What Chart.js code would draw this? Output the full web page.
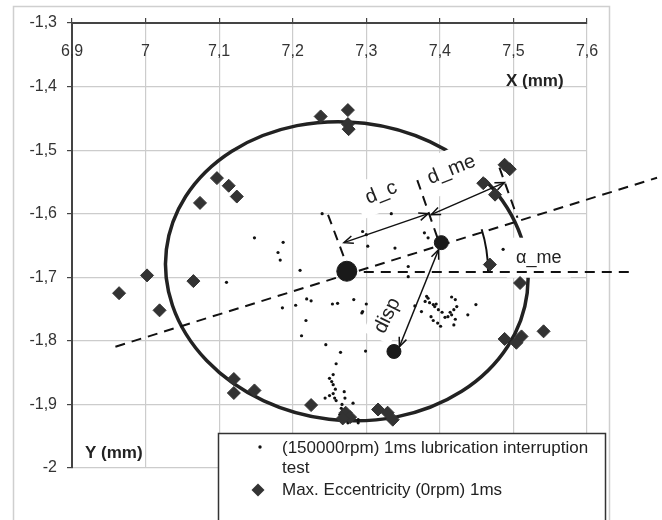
<!DOCTYPE html>
<html>
<head>
<meta charset="utf-8">
<title>Journal centre trajectory</title>
<script src="https://cdn.jsdelivr.net/npm/chart.js@4.4.1/dist/chart.umd.min.js"></script>
<style>
    html, body { margin: 0; padding: 0; background: #fff; }
    #wrap { width: 662px; height: 520px; }
</style>
</head>
<body>
<div id="wrap"><canvas id="eccChart" width="662" height="520"></canvas></div>
<script>
// tick labels (comma decimals, as in the original)
const xTickLabels = ['6,9', '7', '7,1', '7,2', '7,3', '7,4', '7,5', '7,6'];
const yTickLabels = ['-2', '-1,9', '-1,8', '-1,7', '-1,6', '-1,5', '-1,4', '-1,3'];

// (150000rpm) 1ms lubrication interruption test - small dots
const runX = [7.148, 7.187, 7.180, 7.183, 7.210, 7.110, 7.240, 7.334, 7.295, 7.300,
    7.302, 7.339, 7.357, 7.379, 7.384, 7.357, 7.486,
    7.186, 7.204, 7.219, 7.225, 7.254, 7.261, 7.283, 7.300, 7.295, 7.294,
    7.218, 7.212, 7.245, 7.265, 7.299, 7.259,
    7.255, 7.250, 7.253, 7.255, 7.258, 7.270, 7.255, 7.250, 7.244, 7.257,
    7.259, 7.267, 7.271, 7.282, 7.266, 7.268, 7.264, 7.282, 7.289, 7.289, 7.275,
    7.366, 7.375, 7.382, 7.384, 7.380, 7.386, 7.391, 7.393, 7.395, 7.388,
    7.391, 7.397, 7.401, 7.403, 7.407, 7.411, 7.414, 7.416, 7.416, 7.421,
    7.423, 7.419, 7.421, 7.419, 7.438, 7.449, 7.398];
const runY = [-1.638, -1.645, -1.661, -1.673, -1.689, -1.708, -1.600, -1.600, -1.628, -1.633,
    -1.651, -1.654, -1.683, -1.630, -1.638, -1.699, -1.656,
    -1.748, -1.744, -1.734, -1.737, -1.742, -1.741, -1.735, -1.742, -1.754, -1.756,
    -1.768, -1.792, -1.806, -1.818, -1.816, -1.836,
    -1.853, -1.859, -1.864, -1.869, -1.876, -1.880, -1.883, -1.886, -1.890, -1.890,
    -1.894, -1.900, -1.890, -1.898, -1.906, -1.909, -1.916, -1.921, -1.924, -1.929, -1.929,
    -1.745, -1.754, -1.730, -1.733, -1.738, -1.740, -1.743, -1.746, -1.742, -1.762,
    -1.768, -1.772, -1.777, -1.755, -1.763, -1.762, -1.755, -1.759, -1.731, -1.735,
    -1.746, -1.751, -1.766, -1.775, -1.759, -1.743, -1.751];

// Max. Eccentricity (0rpm) 1ms - diamonds
const eccX = [7.238, 7.275, 7.275, 7.276, 7.074, 7.097, 7.113, 7.124, 6.964, 7.002,
    7.019, 7.065, 7.120, 7.120, 7.148, 7.225, 7.272, 7.278, 7.268, 7.316,
    7.329, 7.336, 7.488, 7.504, 7.511, 7.541, 7.509, 7.468, 7.488, 7.495,
    7.459, 7.475];
const eccY = [-1.447, -1.437, -1.459, -1.467, -1.583, -1.544, -1.556, -1.573, -1.725, -1.697,
    -1.752, -1.706, -1.860, -1.882, -1.878, -1.901, -1.913, -1.920, -1.922, -1.908,
    -1.913, -1.924, -1.797, -1.803, -1.793, -1.785, -1.709, -1.680, -1.523, -1.530,
    -1.552, -1.570];

// bearing centre, mean eccentric position, displaced position
const markX = [7.2735, 7.402, 7.3376];
const markY = [-1.6905, -1.6455, -1.8167];

// fitted orbit and construction lines (data units)
const fitCentre = [7.2735, -1.6905];
const fitRadius = [0.247, 0.2345];
const fitTilt = 0.12;
const mainLine = [[6.959, -1.8092], [7.6952, -1.5434]];
const levelLine = [[7.2735, -1.6915], [7.657, -1.6915]];
const crossLines = [
    [[7.248, -1.6018], [7.2735, -1.6802]],
    [[7.3693, -1.5471], [7.3977, -1.6411]],
    [[7.481, -1.5276], [7.5055, -1.6063]]
];
const arrows = [
    [[7.2696, -1.6455], [7.3841, -1.5999]],
    [[7.3882, -1.6015], [7.4877, -1.5511]],
    [[7.3982, -1.6566], [7.3450, -1.8092]]
];
const arcRadius = 0.192;

const FONT = '"Liberation Sans", Arial, sans-serif';

const notes = [
    { text: 'd_c', at: [7.3203, -1.567], angle: -22, size: 20, box: [52, 36] },
    { text: 'd_me', at: [7.4158, -1.5308], angle: -22, size: 20, box: [66, 40] },
    { text: 'disp', at: [7.3285, -1.7604], angle: -64, size: 20, box: [50, 30] },
    { text: 'α_me', at: [7.5345, -1.6692], angle: 0, size: 18, box: [64, 40] }
];

function drawHead(ctx, x1, y1, x2, y2) {
    const a = Math.atan2(y2 - y1, x2 - x1);
    const s = 10;
    ctx.beginPath();
    ctx.moveTo(x2 - s * Math.cos(a - 0.4), y2 - s * Math.sin(a - 0.4));
    ctx.lineTo(x2, y2);
    ctx.lineTo(x2 - s * Math.cos(a + 0.4), y2 - s * Math.sin(a + 0.4));
    ctx.stroke();
}

const sketchPlugin = {
    id: 'sketch',
    beforeDraw(chart) {
        const ctx = chart.ctx;
        ctx.save();
        ctx.fillStyle = '#fff';
        ctx.fillRect(0, 0, chart.width, chart.height);
        ctx.strokeStyle = '#cfcfcf';
        ctx.lineWidth = 1.5;
        ctx.strokeRect(13.5, 6.5, 596, 540);
        ctx.restore();
    },
    beforeDatasetsDraw(chart) {
        const { ctx, scales: { x, y } } = chart;
        const px = v => x.getPixelForValue(v);
        const py = v => y.getPixelForValue(v);
        ctx.save();

        // fitted orbit
        const cx = px(fitCentre[0]), cy = py(fitCentre[1]);
        const rx = px(fitCentre[0] + fitRadius[0]) - cx;
        const ry = py(fitCentre[1] - fitRadius[1]) - cy;
        ctx.beginPath();
        ctx.ellipse(cx, cy, rx, ry, fitTilt, 0, 2 * Math.PI);
        ctx.lineWidth = 3.5;
        ctx.strokeStyle = '#222';
        ctx.stroke();

        // white label backgrounds
        ctx.fillStyle = '#fff';
        notes.forEach(n => {
            ctx.save();
            ctx.translate(px(n.at[0]), py(n.at[1]));
            ctx.rotate(n.angle * Math.PI / 180);
            ctx.fillRect(-n.box[0] / 2, -n.box[1] / 2, n.box[0], n.box[1]);
            ctx.restore();
        });

        // dashed construction lines
        ctx.strokeStyle = '#111';
        ctx.lineWidth = 2;
        ctx.setLineDash([10, 7]);
        [mainLine, levelLine].concat(crossLines).forEach(l => {
            ctx.beginPath();
            ctx.moveTo(px(l[0][0]), py(l[0][1]));
            ctx.lineTo(px(l[1][0]), py(l[1][1]));
            ctx.stroke();
        });
        ctx.setLineDash([]);

        // angle arc
        const bx = px(markX[0]), by = py(markY[0]);
        const a0 = Math.atan2(py(mainLine[1][1]) - py(mainLine[0][1]), px(mainLine[1][0]) - px(mainLine[0][0]));
        const r = px(markX[0] + arcRadius) - bx;
        ctx.beginPath();
        ctx.arc(bx, by, r, a0, 0);
        ctx.lineWidth = 2;
        ctx.stroke();

        // double arrows
        ctx.lineWidth = 1.5;
        arrows.forEach(a => {
            const x1 = px(a[0][0]), y1 = py(a[0][1]);
            const x2 = px(a[1][0]), y2 = py(a[1][1]);
            ctx.beginPath();
            ctx.moveTo(x1, y1);
            ctx.lineTo(x2, y2);
            ctx.stroke();
            drawHead(ctx, x1, y1, x2, y2);
            drawHead(ctx, x2, y2, x1, y1);
        });
        ctx.restore();
    },
    afterDatasetsDraw(chart) {
        const { ctx, scales: { x, y } } = chart;
        const px = v => x.getPixelForValue(v);
        const py = v => y.getPixelForValue(v);
        ctx.save();
        ctx.fillStyle = '#333';
        ctx.textBaseline = 'middle';

        // x tick labels sit inside the plot, under the top axis
        ctx.font = '16px ' + FONT;
        ctx.textAlign = 'center';
        x.ticks.forEach((t, i) => ctx.fillText(xTickLabels[i], px(t.value), 52));

        // axis titles
        ctx.font = 'bold 17px ' + FONT;
        ctx.textAlign = 'left';
        ctx.fillStyle = '#222';
        ctx.fillText('X (mm)', 506, 81);
        ctx.fillText('Y (mm)', 85, 453);

        // annotations
        notes.forEach(n => {
            ctx.save();
            ctx.translate(px(n.at[0]), py(n.at[1]));
            ctx.rotate(n.angle * Math.PI / 180);
            ctx.font = n.size + 'px ' + FONT;
            ctx.textAlign = 'center';
            ctx.fillText(n.text, 0, 0);
            ctx.restore();
        });

        // legend
        ctx.fillStyle = '#fff';
        ctx.fillRect(218.5, 433.5, 387, 100);
        ctx.strokeStyle = '#333';
        ctx.lineWidth = 1.5;
        ctx.strokeRect(218.5, 433.5, 387, 100);
        ctx.fillStyle = '#111';
        ctx.beginPath();
        ctx.arc(260, 447, 1.7, 0, 2 * Math.PI);
        ctx.fill();
        ctx.fillStyle = '#333';
        ctx.beginPath();
        ctx.moveTo(258, 483.5);
        ctx.lineTo(264.5, 490);
        ctx.lineTo(258, 496.5);
        ctx.lineTo(251.5, 490);
        ctx.closePath();
        ctx.fill();
        ctx.font = '17px ' + FONT;
        ctx.textAlign = 'left';
        ctx.fillStyle = '#222';
        ctx.fillText('(150000rpm) 1ms lubrication interruption', 282, 448);
        ctx.fillText('test', 282, 468);
        ctx.fillText('Max. Eccentricity (0rpm) 1ms', 282, 490);
        ctx.restore();
    }
};

const toPoints = (xs, ys) => xs.map((v, i) => ({ x: v, y: ys[i] }));

new Chart(document.getElementById('eccChart'), {
    type: 'scatter',
    data: {
        datasets: [
            {
                label: 'centres',
                data: toPoints(markX, markY),
                pointRadius: [10, 7, 7],
                backgroundColor: '#1a1a1a',
                borderColor: '#1a1a1a',
                borderWidth: 1
            },
            {
                label: 'Max. Eccentricity (0rpm) 1ms',
                data: toPoints(eccX, eccY),
                pointStyle: 'rectRot',
                pointRadius: 6.5,
                backgroundColor: '#333',
                borderColor: '#333',
                borderWidth: 1
            },
            {
                label: '(150000rpm) 1ms lubrication interruption test',
                data: toPoints(runX, runY),
                pointRadius: 1.6,
                backgroundColor: '#111',
                borderWidth: 0
            }
        ]
    },
    options: {
        responsive: false,
        animation: false,
        devicePixelRatio: 1,
        layout: { padding: { left: 0, top: 0, right: 75, bottom: 52 } },
        plugins: {
            legend: { display: false },
            tooltip: { enabled: false }
        },
        scales: {
            x: {
                type: 'linear',
                position: 'top',
                min: 6.9,
                max: 7.6,
                ticks: { stepSize: 0.1, display: false },
                grid: { color: '#cccccc', lineWidth: 1.2, tickLength: 5, tickColor: '#444' },
                border: { color: '#444', width: 2 },
                afterFit: scale => { scale.height = 23; }
            },
            y: {
                type: 'linear',
                min: -2,
                max: -1.3,
                ticks: {
                    stepSize: 0.1,
                    padding: 10,
                    color: '#333',
                    font: { family: FONT, size: 16 },
                    callback: (value, index) => yTickLabels[index]
                },
                grid: { color: '#cccccc', lineWidth: 1.2, tickLength: 5, tickColor: '#444' },
                border: { color: '#444', width: 2 },
                afterFit: scale => { scale.width = 72; }
            }
        }
    },
    plugins: [sketchPlugin]
});
</script>
</body>
</html>
